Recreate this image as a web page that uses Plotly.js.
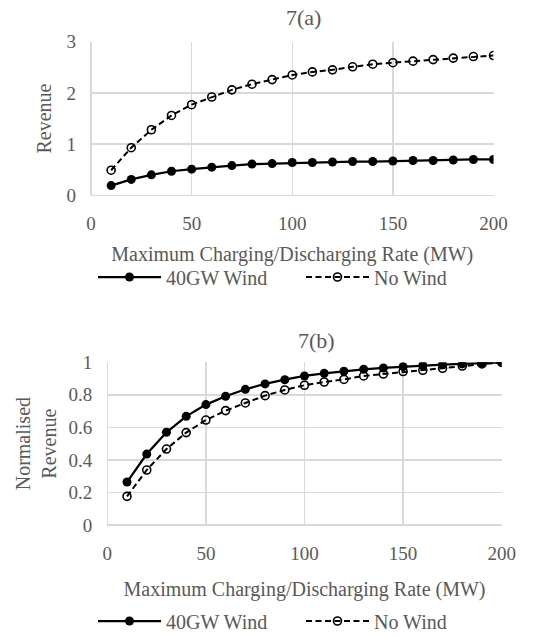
<!DOCTYPE html>
<html>
<head>
<meta charset="utf-8">
<script src="https://cdn.plot.ly/plotly-3.0.1.min.js"></script>
<style>html,body{margin:0;padding:0;background:#fff;}#chart{width:556px;height:636px;}</style>
</head>
<body>
<div id="chart"></div>
<script>
// Data
const rate = [10,20,30,40,50,60,70,80,90,100,110,120,130,140,150,160,170,180,190,200];
const revWind   = [0.19,0.31,0.40,0.47,0.51,0.55,0.58,0.61,0.62,0.64,0.64,0.65,0.66,0.66,0.67,0.68,0.68,0.69,0.70,0.70];
const revNoWind = [0.49,0.93,1.28,1.56,1.77,1.92,2.06,2.17,2.26,2.35,2.41,2.45,2.51,2.56,2.59,2.62,2.65,2.68,2.71,2.73];
const normWind   = [0.264,0.436,0.570,0.668,0.740,0.791,0.834,0.867,0.893,0.916,0.932,0.945,0.957,0.965,0.973,0.980,0.986,0.990,0.994,1.0];
const normNoWind = [0.176,0.338,0.467,0.568,0.645,0.703,0.750,0.795,0.830,0.859,0.879,0.895,0.916,0.928,0.943,0.951,0.963,0.977,0.990,1.0];
const seriesNames = ["40GW Wind", "No Wind"];
const panelTitles = ["7(a)", "7(b)"];
const xTitle = "Maximum Charging/Discharging Rate (MW)";
const yTitles = ["Revenue", "Normalised<br>Revenue"];

const FONT = "Liberation Serif, Times New Roman, serif";
const GRAY = "#595959";
const GRID = "#d9d9d9";

function solid(x, y, xa, ya, lg) {
  return {x: x, y: y, xaxis: xa, yaxis: ya, type: "scatter", mode: "lines+markers",
    name: seriesNames[0], legend: lg, showlegend: true,
    line: {color: "#000", width: 2.25},
    marker: {symbol: "circle", size: 9, color: "#000"}};
}
function dashed(x, y, xa, ya, lg) {
  return {x: x, y: y, xaxis: xa, yaxis: ya, type: "scatter", mode: "lines+markers",
    name: seriesNames[1], legend: lg, showlegend: true,
    line: {color: "#000", width: 2, dash: "6px,3.5px"},
    marker: {symbol: "circle-open", size: 8, color: "#000", line: {width: 1.6, color: "#000"}}};
}

const data = [
  solid(rate, revWind, "x", "y", "legend"),
  dashed(rate, revNoWind, "x", "y", "legend2"),
  solid(rate, normWind, "x2", "y2", "legend3"),
  dashed(rate, normNoWind, "x2", "y2", "legend4")
];

const tickFont = {family: FONT, size: 19, color: GRAY};
const titleFont = {family: FONT, size: 20, color: GRAY};

function xaxis(domain, anchor, standoff) {
  return {domain: domain, anchor: anchor, range: [0, 200], dtick: 50, tick0: 0,
    showgrid: true, gridcolor: GRID, gridwidth: 1.5, zeroline: true, zerolinecolor: GRID, zerolinewidth: 1.5,
    showline: false, ticks: "", tickfont: tickFont, ticklabelstandoff: 15, automargin: false,
    title: {text: xTitle, font: titleFont, standoff: standoff}, fixedrange: true};
}
function yaxis(domain, anchor, range, dtick, title, standoff) {
  return {domain: domain, anchor: anchor, range: range, dtick: dtick, tick0: 0,
    showgrid: true, gridcolor: GRID, gridwidth: 1.5, zeroline: true, zerolinecolor: GRID, zerolinewidth: 1.5,
    showline: false, ticks: "", tickfont: tickFont, ticklabelstandoff: 14, automargin: false,
    title: {text: title, font: titleFont, standoff: standoff}, fixedrange: true};
}
function legend(xpx, ypx) {
  return {orientation: "h", x: xpx/556, xanchor: "left", y: 1 - ypx/636, yanchor: "middle",
    font: {family: FONT, size: 20, color: GRAY}, itemwidth: 63,
    bgcolor: "rgba(0,0,0,0)", borderwidth: 0};
}

const layout = {
  width: 556, height: 636,
  margin: {l: 0, r: 0, t: 0, b: 0, autoexpand: false},
  paper_bgcolor: "#fff", plot_bgcolor: "#fff",
  font: {family: FONT, color: GRAY},
  xaxis: xaxis([91/556, 493.5/556], "y", 13),
  yaxis: yaxis([1 - 195.3/636, 1 - 41.7/636], "x", [0, 3], 1, yTitles[0], 9),
  xaxis2: xaxis([107.3/556, 501.7/556], "y2", 18),
  yaxis2: yaxis([1 - 525/636, 1 - 362.3/636], "x2", [0, 1], 0.2, yTitles[1], 6),
  legend: legend(93, 277),
  legend2: legend(301, 277),
  legend3: legend(93, 621),
  legend4: legend(301, 621),
  annotations: [
    {text: panelTitles[0], xref: "paper", yref: "paper", x: 303/556, y: 1 - 18/636, xanchor: "center", yanchor: "middle",
     showarrow: false, font: {family: FONT, size: 22, color: GRAY}},
    {text: panelTitles[1], xref: "paper", yref: "paper", x: 316/556, y: 1 - 340/636, xanchor: "center", yanchor: "middle",
     showarrow: false, font: {family: FONT, size: 22, color: GRAY}}
  ]
};

Plotly.newPlot("chart", data, layout, {displayModeBar: false, staticPlot: true});
</script>
</body>
</html>
